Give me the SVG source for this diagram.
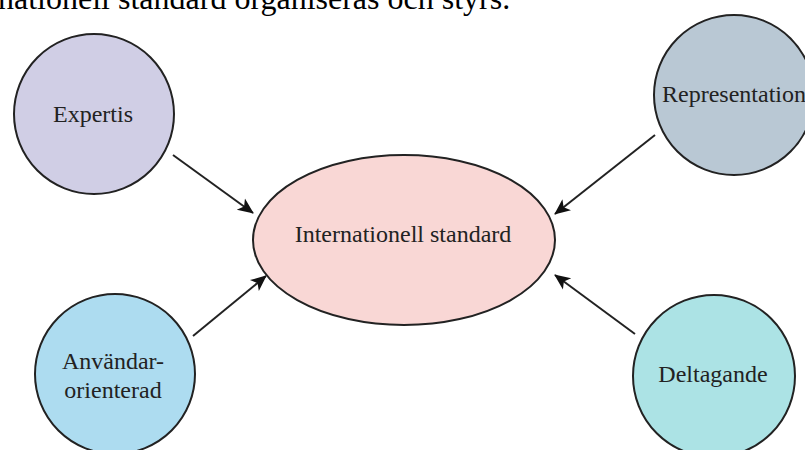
<svg xmlns="http://www.w3.org/2000/svg" width="805" height="450" viewBox="0 0 805 450">
<style>
text{font-family:"Liberation Serif","Times New Roman",serif;fill:#222;}
.lbl{font-size:24px;text-anchor:middle;}
.node{stroke:#222;stroke-width:2;}
.edge{stroke:#222;stroke-width:2;fill:none;marker-end:url(#ah);}
</style>
<defs>
<marker id="ah" markerUnits="userSpaceOnUse" markerWidth="16" markerHeight="16" viewBox="0 0 16 16" refX="15" refY="8" orient="auto">
<path d="M0,1 L16,8 L0,15 L4,8 Z" fill="#111"/>
</marker>
</defs>
<rect width="805" height="450" fill="#fff"/>
<text x="-2" y="9" style="font-size:32px;fill:#000">nationell standard organiseras och styrs.</text>
<g id="connectors">
<line class="edge" x1="173" y1="155" x2="253" y2="213"/>
<line class="edge" x1="655" y1="135" x2="555" y2="214"/>
<line class="edge" x1="193" y1="336" x2="266" y2="276"/>
<line class="edge" x1="635" y1="334" x2="555" y2="275"/>
</g>
<g id="internationell">
<ellipse class="node" cx="404" cy="240" rx="151" ry="85" fill="#f9d7d5"/>
<text class="lbl" x="403" y="242">Internationell standard</text>
</g>
<g id="expertis">
<circle class="node" cx="94" cy="114" r="80" fill="#d0cee5"/>
<text class="lbl" x="93" y="122">Expertis</text>
</g>
<g id="representation">
<circle class="node" cx="734" cy="95" r="80" fill="#b9c8d4"/>
<text class="lbl" x="734" y="102">Representation</text>
</g>
<g id="anvandar">
<circle class="node" cx="115" cy="374" r="80" fill="#addcf0"/>
<text class="lbl" x="113" y="369">Användar-</text>
<text class="lbl" x="113" y="398">orienterad</text>
</g>
<g id="deltagande">
<circle class="node" cx="714" cy="376" r="81" fill="#ace3e5"/>
<text class="lbl" x="713" y="382">Deltagande</text>
</g>
</svg>
